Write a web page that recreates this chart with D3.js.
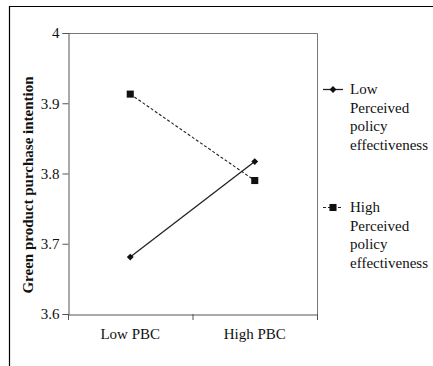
<html lang="en">
  <head>
    <title>Interaction Plot</title>
    <script src="https://d3js.org/d3.v7.min.js"></script>
    <style>
    body { margin: 0; background: white; }
    .ichart text { font-family: "Liberation Serif", "Times New Roman", serif; fill: #111; }
    </style>
  </head>
  <body>
    <svg class="ichart"></svg>
    <script>
      var categories = ["Low PBC", "High PBC"];
      var seriesNames = ["Low Perceived policy effectiveness", "High Perceived policy effectiveness"];
      var lowPPE = [3.681, 3.817];
      var highPPE = [3.913, 3.790];
      var yTicks = [3.6, 3.7, 3.8, 3.9, 4];
      var legendLines = [["Low", "Perceived", "policy", "effectiveness"],
                         ["High", "Perceived", "policy", "effectiveness"]];

      var W = 433, H = 366;
      var plotLeft = 68, plotTop = 33, plotRight = 317, plotBottom = 314;

      var svg = d3.select(".ichart").attr("width", W).attr("height", H);

      // outer frame
      svg.append("path")
        .attr("d", "M9.5," + (H + 1) + "V6.5H" + (W + 1))
        .attr("fill", "none").attr("stroke", "#000").attr("stroke-width", 1.2);

      var x = d3.scaleBand().domain(categories).range([plotLeft, plotRight]);
      var y = d3.scaleLinear().domain([3.6, 4]).range([plotBottom, plotTop]);

      // plot box (top and right)
      svg.append("path")
        .attr("d", "M" + plotLeft + "," + (plotTop + 0.5) + "H" + (plotRight + 0.5) + "V" + plotBottom)
        .attr("fill", "none").attr("stroke", "#777").attr("stroke-width", 1);

      var yAxis = svg.append("g")
        .attr("transform", "translate(" + (plotLeft + 0.5) + ",0)")
        .call(d3.axisLeft(y).tickValues(yTicks).tickSize(6).tickPadding(3)
          .tickFormat(function(d) { return d === 4 ? "4" : d3.format(".1f")(d); }));
      yAxis.select(".domain").attr("stroke", "#555");
      yAxis.selectAll(".tick line").attr("stroke", "#555");
      yAxis.selectAll("text").attr("font-size", 15).attr("font-family", "Liberation Serif");

      var xAxis = svg.append("g")
        .attr("transform", "translate(0," + (plotBottom + 0.5) + ")")
        .call(d3.axisBottom(x).tickSize(0).tickPadding(14));
      xAxis.select(".domain").attr("stroke", "#555");
      xAxis.selectAll("text").attr("font-size", 15).attr("font-family", "Liberation Serif");
      // tick marks at band edges
      var edges = [plotLeft, plotLeft + x.bandwidth(), plotRight];
      svg.append("g").selectAll("line").data(edges).enter().append("line")
        .attr("x1", function(d) { return d + 0.5; }).attr("x2", function(d) { return d + 0.5; })
        .attr("y1", plotBottom).attr("y2", plotBottom + 6)
        .attr("stroke", "#555");

      svg.append("text")
        .attr("transform", "translate(33,185) rotate(-90)")
        .attr("text-anchor", "middle")
        .attr("font-size", 15).attr("font-weight", "bold")
        .text("Green product purchase intention");

      var cx = function(d, i) { return x(categories[i]) + x.bandwidth() / 2; };
      var line = d3.line().x(cx).y(function(d) { return y(d); });

      svg.append("path").datum(lowPPE).attr("d", line)
        .attr("fill", "none").attr("stroke", "#222").attr("stroke-width", 1.3);
      svg.append("path").datum(highPPE).attr("d", line)
        .attr("fill", "none").attr("stroke", "#222").attr("stroke-width", 1.1)
        .attr("stroke-dasharray", "3,2");

      var diamond = d3.symbol().type(d3.symbolDiamond2).size(30);
      var square = d3.symbol().type(d3.symbolSquare).size(50);

      svg.selectAll(".lowpt").data(lowPPE).enter().append("path")
        .attr("transform", function(d, i) { return "translate(" + cx(d, i) + "," + y(d) + ")"; })
        .attr("d", diamond).attr("fill", "#111");
      svg.selectAll(".highpt").data(highPPE).enter().append("path")
        .attr("transform", function(d, i) { return "translate(" + cx(d, i) + "," + y(d) + ")"; })
        .attr("d", square).attr("fill", "#111");

      // legend
      var legY = [89, 207];
      legendLines.forEach(function(lines, k) {
        var g = svg.append("g").attr("transform", "translate(323," + legY[k] + ")");
        g.append("line").attr("x1", 0).attr("x2", 20).attr("y1", 0.5).attr("y2", 0.5)
          .attr("stroke", "#222").attr("stroke-width", k ? 1.1 : 1.3)
          .attr("stroke-dasharray", k ? "3,2" : null);
        g.append("path").attr("transform", "translate(10,0.5)")
          .attr("d", k ? square : diamond).attr("fill", "#111");
        g.selectAll("text").data(lines).enter().append("text")
          .attr("x", 27).attr("y", function(d, i) { return i * 18.7 + 5; })
          .attr("font-size", 15)
          .text(function(d) { return d; });
      });
    </script>
  </body>
</html>
